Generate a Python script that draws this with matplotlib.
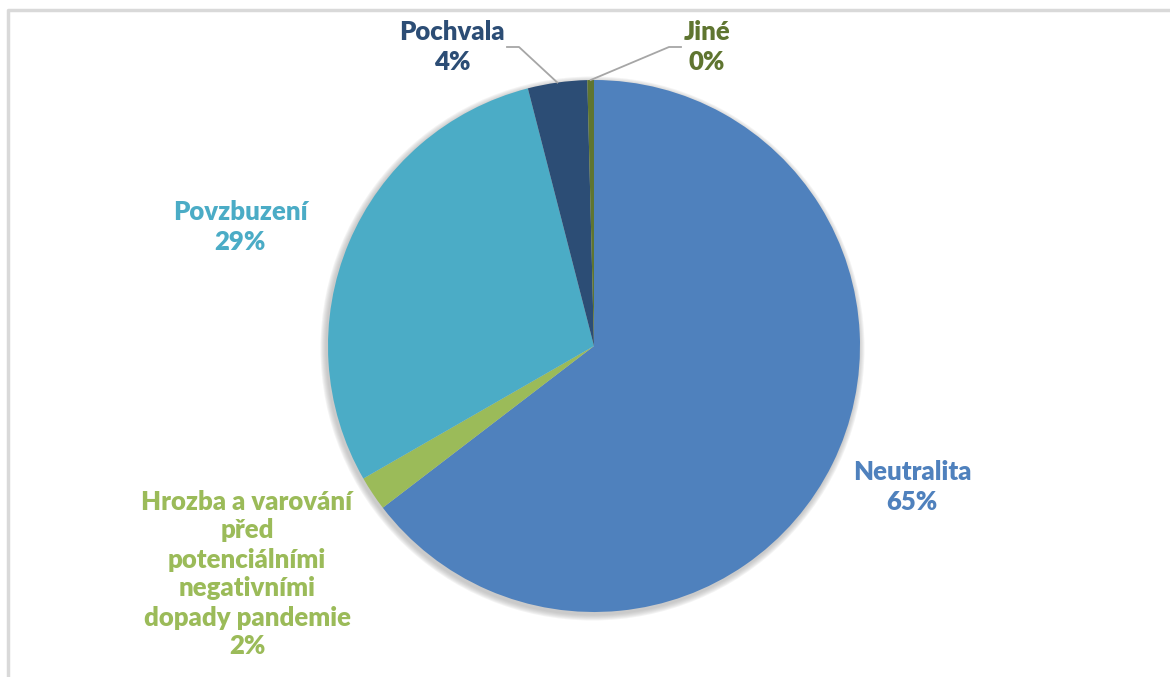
import numpy as np
import matplotlib.pyplot as plt
from matplotlib.patches import Circle
from matplotlib.lines import Line2D

# Share of each message type (percent)
categories = ["Neutralita", "Hrozba a varování\npřed\npotenciálními\nnegativními\ndopady pandemie",
              "Povzbuzení", "Pochvala", "Jiné"]
values = [64.6, 2.1, 29.3, 3.6, 0.4]
colors = ["#4F81BD", "#9BBB59", "#4BACC6", "#2C4D75", "#5F7530"]

W, H = 1170, 677
fig = plt.figure(figsize=(W / 100, H / 100), dpi=100)
ax = fig.add_axes([0, 0, 1, 1])

cx, cy, r = 594, H - 346, 266

# soft shadow around the pie
for i in range(6, 0, -1):
    ax.add_patch(Circle((cx - 1.5, cy - 2.5), r + i, color="#9a9a9a",
                        alpha=0.11, lw=0, zorder=0))

wedges, _ = ax.pie(values, colors=colors, startangle=90, counterclock=False,
                   center=(cx, cy), radius=r, frame=True,
                   wedgeprops=dict(linewidth=0))
ax.set_xlim(0, W)
ax.set_ylim(0, H)
ax.set_aspect("equal")
ax.axis("off")

# label positions (pixel coords, y from top)
label_pos = [(912, 487), (247, 574), (240, 227), (452, 47), (707, 47)]
font = dict(family=["Lato", "DejaVu Sans"], fontweight="heavy", fontsize=18.5)

for lab, v, col, (lx, ly) in zip(categories, values, colors, label_pos):
    ax.text(lx, H - ly, f"{lab}\n{round(v):.0f}%", color=col, ha="center", va="center",
            linespacing=1.25, **font)

# leader lines for the two thin slices: (slice, label anchor x, y, direction)
for idx, ax_x, ly, side in [(3, 507, 47, 1), (4, 681, 47, -1)]:
    w = wedges[idx]
    ang = np.deg2rad((w.theta1 + w.theta2) / 2)
    ex, ey = cx + r * np.cos(ang), cy + r * np.sin(ang)
    ax.add_line(Line2D([ex, ax_x + side * 12, ax_x],
                       [ey, H - ly, H - ly], color="#A6A6A6", lw=1.3, zorder=5))

# chart frame (light grey)
ax.add_line(Line2D([7.5, 7.5, W], [0, H - 9.5, H - 9.5], color="#D9D9D9", lw=2.5))

fig.savefig("out.png", dpi=100)
